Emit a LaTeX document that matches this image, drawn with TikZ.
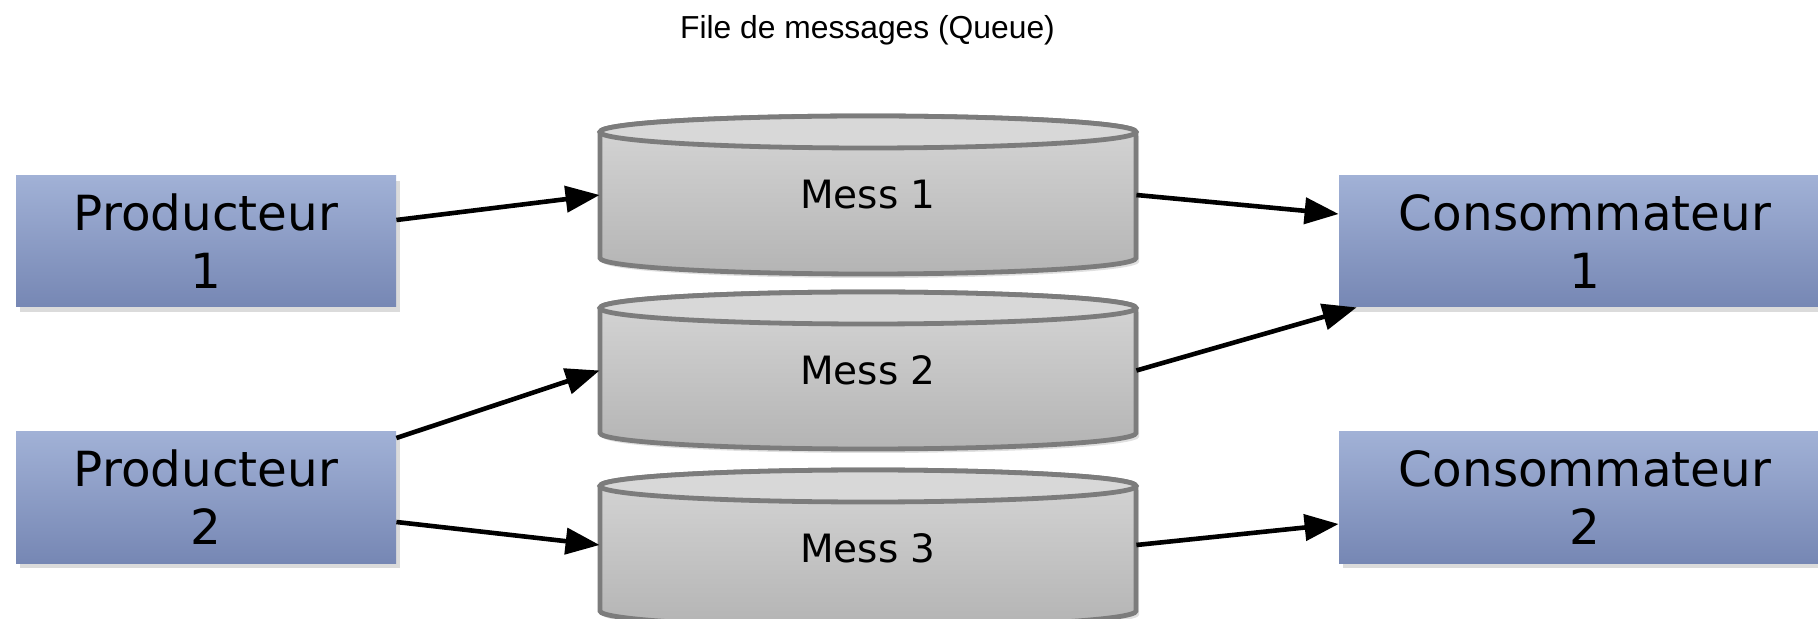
\documentclass[tikz,border=0pt]{standalone}
\usepackage{fontspec}
\setmainfont{DejaVu Sans}
\newfontfamily\titlefont{Liberation Sans}
\usetikzlibrary{arrows.meta,shadows,calc}

\definecolor{boxtop}{RGB}{161,177,214}
\definecolor{boxbot}{RGB}{118,135,180}
\definecolor{cyltop}{RGB}{214,214,214}
\definecolor{cylbot}{RGB}{180,180,180}
\definecolor{cyllid}{RGB}{216,216,216}
\definecolor{cylline}{RGB}{124,124,124}

\tikzset{
  actor/.style={draw=none, top color=boxtop, bottom color=boxbot,
    minimum height=65.5pt, inner sep=0pt, align=center,
    font=\fontsize{24.2}{29}\selectfont,
    drop shadow={shadow xshift=2pt, shadow yshift=-2.5pt, fill=black, opacity=0.14}},
  prodbox/.style={actor, minimum width=190pt},
  consbox/.style={actor, minimum width=246pt},
  queuebox/.style={minimum width=268pt, minimum height=63pt, inner sep=0pt,
    font=\fontsize{19.5}{23}\selectfont},
  cylbody/.style={top color=cyltop, bottom color=cylbot, draw=cylline, line width=2.4pt},
  cyllidstyle/.style={fill=cyllid, draw=cylline, line width=2.4pt},
  cylshadow/.style={fill=black, opacity=0.12},
  flow/.style={draw=black, line width=2.3pt, -{Triangle[length=17pt,width=13pt]}}
}

\begin{document}
\begin{tikzpicture}[x=0.5pt, y=0.5pt]
  \useasboundingbox (0,0) rectangle (1818,-619);
  \clip (0,0) rectangle (1818,-619);
  \fill[white] (0,0) rectangle (1818,-619);

  % title
  \node[font=\titlefont\fontsize{15.9}{19}\selectfont, anchor=base, inner sep=0pt]
    (title) at (867.5,-38.5) {File de messages (Queue)};

  % the three message cylinders: top rim centre y, bottom rim centre y
  \foreach \ty/\by in {132/258, 308/433, 486/611}{
    \fill[cylshadow] (603,-\ty-4) -- (603,-\by-4)
      arc[start angle=180, end angle=360, x radius=268, y radius=16]
      -- (1139,-\ty-4) -- cycle;
    \path[cylbody] (600,-\ty) -- (600,-\by)
      arc[start angle=180, end angle=360, x radius=268, y radius=16]
      -- (1136,-\ty)
      arc[start angle=0, end angle=180, x radius=268, y radius=16] -- cycle;
    \path[cyllidstyle] (868,-\ty) ellipse[x radius=268, y radius=16];
  }
  \node[queuebox] (m1) at (868,-195)   {Mess 1};
  \node[queuebox] (m2) at (868,-370.5) {Mess 2};
  \node[queuebox] (m3) at (868,-548.5) {Mess 3};

  % producers and consumers
  \node[prodbox] (p1) at (206,-241.5) {Producteur\\1};
  \node[prodbox] (p2) at (206,-497.5) {Producteur\\2};
  \node[consbox] (c1) at (1585,-241.5) {Consommateur\\1};
  \node[consbox] (c2) at (1585,-497.5) {Consommateur\\2};

  % message flow
  \draw[flow] ($(p1.east)+(0,21.5)$) -- (m1.west);
  \draw[flow] (m1.east) -- ($(c1.west)+(0,27.5)$);
  \draw[flow] ($(p2.east)+(0,59.5)$) -- (m2.west);
  \draw[flow] (m2.east) -- ($(c1.south west)+(18,0)$);
  \draw[flow] ($(p2.east)+(0,-24.5)$) -- ($(m3.west)+(0,3.5)$);
  \draw[flow] ($(m3.east)+(0,3.5)$) -- ($(c2.west)+(0,-26.5)$);
\end{tikzpicture}
\end{document}
